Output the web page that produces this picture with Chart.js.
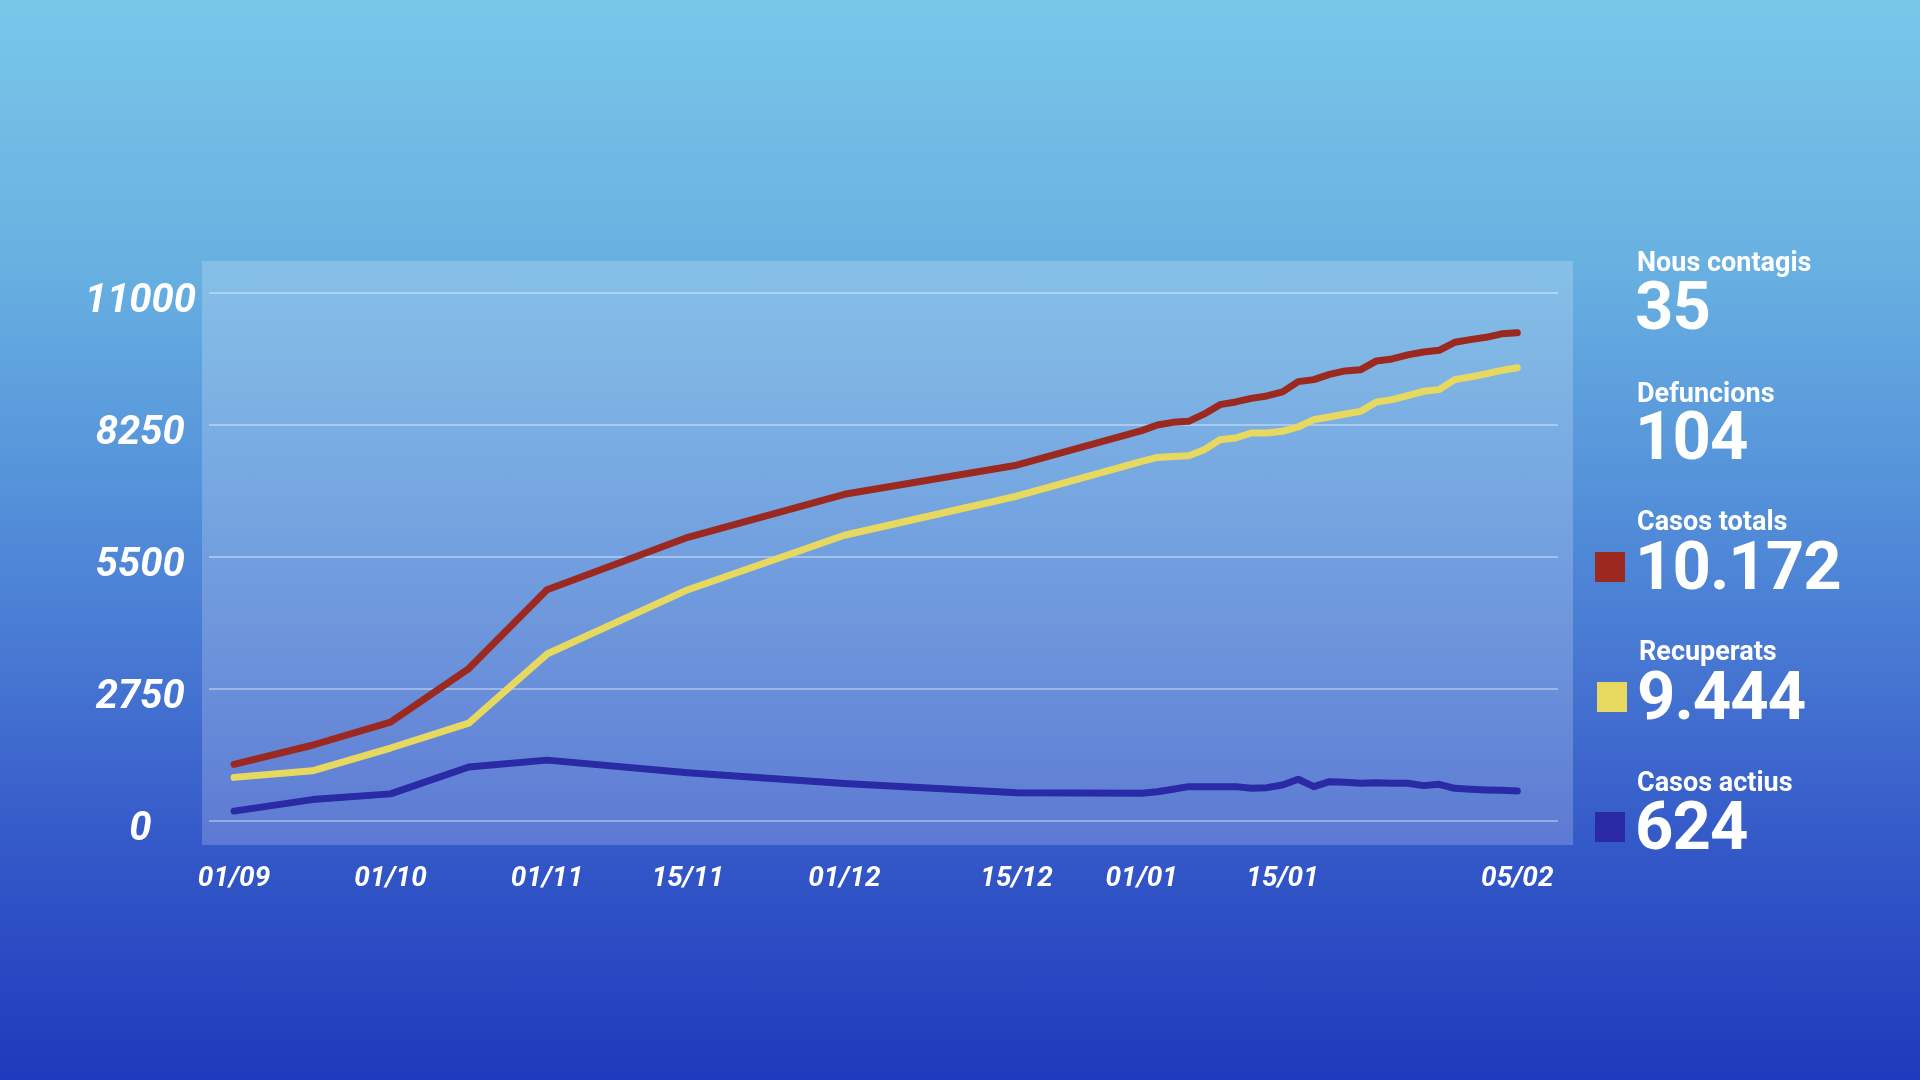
<!DOCTYPE html>
<html><head><meta charset="utf-8">
<script src="https://cdn.jsdelivr.net/npm/chart.js@4/dist/chart.umd.min.js"></script>
<style>
html,body{margin:0;padding:0;width:1920px;height:1080px;overflow:hidden;}
body{background:linear-gradient(to bottom,#79C7E9 0%,#67B0E1 25%,#5592DA 45%,#4676D2 62%,#3459C8 78%,#1F3ABD 100%);font-family:Roboto,sans-serif;}
#c{position:absolute;left:0;top:0;}
.txt{position:absolute;color:#fff;font-weight:700;white-space:nowrap;}
.t{font-size:27px;line-height:1;}
.v{font-size:67px;line-height:1;letter-spacing:-1px;}
.sw{position:absolute;width:30px;height:30px;}
</style></head><body>
<canvas id="c" width="1920" height="1080"></canvas>
<div id="stats"></div>
<script>
// report slots (uniformly spaced rows of the source table)
const slots = [0,5,10,15,20,29,39,50,58,59,60,61,62,63,64,65,66,67,68,69,70,71,72,73,74,75,76,77,78,79,80,81,82];
const tickSlots = [0,10,20,29,39,50,58,67,82];
const tickLabels = ['01/09','01/10','01/11','15/11','01/12','15/12','01/01','15/01','05/02'];
const yTicks = [0,2750,5500,8250,11000];

const totalCases = [1180,1578,2058,3176,4819,5911,6806,7412,8132,8250,8305,8326,8480,8674,8730,8805,8855,8939,9154,9195,9306,9376,9403,9585,9627,9710,9772,9806,9973,10029,10077,10150,10172];
const recovered  = [909,1045,1520,2040,3478,4819,5953,6766,7492,7575,7596,7611,7736,7944,7979,8084,8084,8118,8209,8361,8417,8480,8534,8730,8778,8862,8951,8987,9195,9251,9314,9389,9444];
const active     = [206,446,565,1124,1268,1005,782,590,577,611,661,716,716,716,716,681,695,751,869,716,820,806,786,799,786,786,737,764,681,661,647,640,624];

const statLabels = ['Nous contagis','Defuncions','Casos totals','Recuperats','Casos actius'];
const statValues = ['35','104','10.172','9.444','624'];
const statColors = [null,null,'#9B2920','#E7D960','#2A2AA6'];

const RED='#9B2920', YEL='#E7D960', BLU='#2A2AA6';

function pts(vals){ return slots.map((s,i)=>({x:s,y:vals[i]})); }

const panel = {
  id:'panel',
  beforeDraw(chart){
    const {ctx, chartArea:a} = chart;
    ctx.save();
    ctx.fillStyle='rgba(255,255,255,0.2)';
    ctx.fillRect(a.left-7, a.top-32, a.right-a.left+22, a.bottom-a.top+56);
    ctx.restore();
  }
};

const lineStyle = {pointRadius:0, borderWidth:7, tension:0, borderJoinStyle:'round', borderCapStyle:'round', clip:false, fill:false};

new Chart(document.getElementById('c'), {
  type:'line',
  data:{datasets:[
    Object.assign({label:'Casos actius', data:pts(active), borderColor:BLU}, lineStyle),
    Object.assign({label:'Recuperats', data:pts(recovered), borderColor:YEL}, lineStyle),
    Object.assign({label:'Casos totals', data:pts(totalCases), borderColor:RED}, lineStyle)
  ]},
  options:{
    responsive:false, animation:false, devicePixelRatio:1,
    layout:{padding:{left:60, right:362, top:293, bottom:159}},
    plugins:{legend:{display:false}, tooltip:{enabled:false}},
    scales:{
      x:{
        type:'linear', min:-1.6, max:84.6,
        afterBuildTicks(s){ s.ticks = tickSlots.map(v=>({value:v})); },
        afterFit(s){ s.height = 100; },
        grid:{display:false, drawTicks:false},
        border:{display:false},
        ticks:{
          autoSkip:false, maxRotation:0, minRotation:0, padding:41, color:'#fff',
          font:{family:'Roboto', size:28, weight:'bold', style:'italic'},
          callback(v){ const i = tickSlots.indexOf(v); return i>=0 ? tickLabels[i] : ''; }
        }
      },
      y:{
        min:0, max:11000,
        afterBuildTicks(s){ s.ticks = yTicks.map(v=>({value:v})); },
        afterFit(s){ s.width = 149; },
        grid:{color:'rgba(255,255,255,0.35)', lineWidth:2, drawTicks:false},
        border:{display:false},
        ticks:{
          crossAlign:'center', padding:13, labelOffset:9, color:'#fff',
          font:{family:'Roboto', size:40, weight:'bold', style:'italic'},
          callback(v){ return String(v); }
        }
      }
    }
  },
  plugins:[panel]
});

// side statistics (real HTML text)
const statTitleTop = [249,380,508,638,769];
const statValueTop = [273,403,533,663,793];
const statLeft = [1637,1637,1637,1639,1637];
const swatchPos = [null,null,[1595,552],[1597,682],[1595,812]];
const box = document.getElementById('stats');
statLabels.forEach((lab,i)=>{
  const t=document.createElement('div'); t.className='txt t'; t.textContent=lab;
  t.style.left=statLeft[i]+'px'; t.style.top=statTitleTop[i]+'px'; box.appendChild(t);
  const v=document.createElement('div'); v.className='txt v'; v.textContent=statValues[i];
  v.style.left=(statLeft[i]-2)+'px'; v.style.top=statValueTop[i]+'px'; box.appendChild(v);
  if(statColors[i]){
    const s=document.createElement('div'); s.className='sw'; s.style.background=statColors[i];
    s.style.left=swatchPos[i][0]+'px'; s.style.top=swatchPos[i][1]+'px'; box.appendChild(s);
  }
});
</script>
</body></html>
